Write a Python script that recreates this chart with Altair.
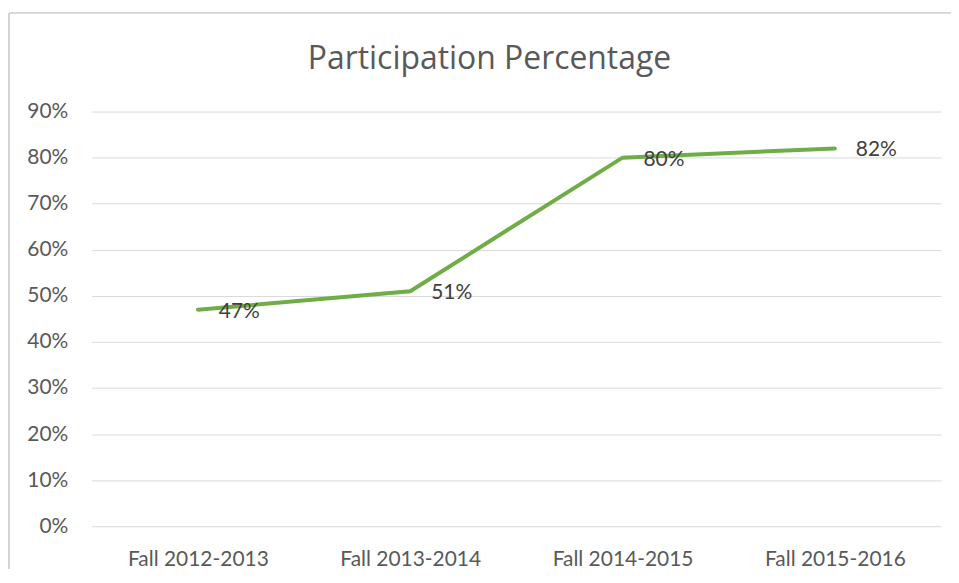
import altair as alt
import pandas as pd

categories = ["Fall 2012-2013", "Fall 2013-2014", "Fall 2014-2015", "Fall 2015-2016"]
values = [0.47, 0.51, 0.80, 0.82]
labels = ["47%", "51%", "80%", "82%"]
title_text = ["Participation Percentage"]

df = pd.DataFrame({"term": categories, "pct": values, "label": labels})
tdf = pd.DataFrame({"t": title_text})

FONT = "Lato"
GRAY = "#595959"
x = alt.X("term:N", sort=categories, title=None,
          scale=alt.Scale(paddingInner=0, paddingOuter=0),
          axis=alt.Axis(labelAngle=0, labelFontSize=21, labelColor=GRAY,
                        labelFont=FONT, ticks=False, domain=False, labelPadding=22,
                        grid=False))
y = alt.Y("pct:Q", title=None,
          scale=alt.Scale(domain=[0, 0.9], nice=False),
          axis=alt.Axis(values=[i / 10 for i in range(10)], format=".0%",
                        labelFontSize=21, labelColor=GRAY, labelFont=FONT,
                        ticks=False, domain=False, labelPadding=24,
                        gridColor="#D9D9D9", gridWidth=1))

base = alt.Chart(df)
line = base.mark_line(color="#70AD47", strokeWidth=4, strokeCap="round").encode(x=x, y=y)
text = base.mark_text(align="left", baseline="middle", dx=21, dy=2, fontSize=21,
                      color="#404040", font=FONT).encode(x=x, y=y, text="label:N")

frame_top = alt.Chart(tdf).mark_rule(color="#D4D4D4", strokeWidth=2, clip=False).encode(
    x=alt.value(-83), x2=alt.value(870), y=alt.value(-99))
frame_left = alt.Chart(tdf).mark_rule(color="#D4D4D4", strokeWidth=2, clip=False).encode(
    x=alt.value(-83), y=alt.value(-99), y2=alt.value(490))
title = alt.Chart(tdf).mark_text(fontSize=32, font="Open Sans", color=GRAY, align="center",
                                 baseline="middle", clip=False).encode(
    x=alt.value(399), y=alt.value(-53), text="t:N")

chart = alt.layer(frame_top, frame_left, title, line, text).properties(
    width=852, height=416,
    autosize=alt.AutoSizeParams(type="none"),
    padding={"left": 84, "top": 103, "right": 10, "bottom": 42},
).configure_view(stroke="transparent", strokeWidth=0)

chart.save("out.html", embed_options={"renderer": "svg", "actions": False})
